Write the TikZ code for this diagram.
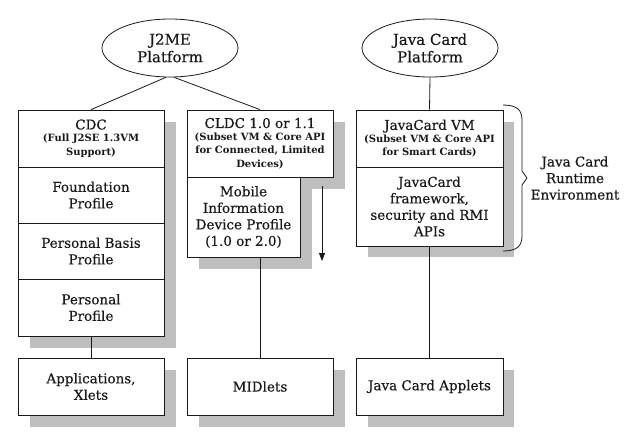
\documentclass[tikz,border=0pt]{standalone}
\usepackage{fontspec}
\setmainfont{DejaVu Serif}
\newfontfamily\heavyserif{DejaVu Serif}[FakeBold=0.35]
\usetikzlibrary{arrows.meta,shapes.geometric}
\definecolor{shadowgray}{RGB}{190,190,190}
\definecolor{ink}{RGB}{25,25,25}
\newcommand{\subf}{\normalfont\fontsize{10}{12.5}\selectfont\bfseries}
\begin{document}
\begin{tikzpicture}[x=1pt,y=-1pt,
  every node/.style={text=ink},
  box/.style={draw=ink, line width=0.8pt, fill=white, rectangle, inner sep=0pt, align=center, font=\heavyserif\fontsize{13.5}{16.5}\selectfont},
  platform/.style={draw=ink, line width=0.8pt, fill=white, ellipse, inner sep=0pt, minimum width=136pt, minimum height=58pt, align=center, font=\heavyserif\fontsize{15}{17.5}\selectfont},
  shade/.style={fill=shadowgray, draw=none},
  conn/.style={draw=ink, line width=0.8pt},
  sidelabel/.style={align=center, font=\heavyserif\fontsize{13.5}{16.5}\selectfont, inner sep=0pt}
]
\fill[white] (0,0) rectangle (635,440);
\useasboundingbox (0,0) rectangle (635,440);
% shadows
\fill[shade] (30,122) rectangle (176,348);
\fill[shade] (30,370) rectangle (176,427);
\fill[shade] (199,122) rectangle (345,189);
\fill[shade] (199,189) rectangle (312,269);
\fill[shade] (199,370) rectangle (345,427);
\fill[shade] (368,122) rectangle (514,257);
\fill[shade] (368,370) rectangle (514,427);
% platforms
\node[platform] (j2me) at (170,48) {J2ME\\Platform};
\node[platform] (jc) at (430,48) {Java Card\\Platform};
% CDC column
\node[box, minimum width=146pt, minimum height=57pt] (cdc) at (91,138.5) {CDC\\[-4pt]{\subf (Full J2SE 1.3VM}\\[-3pt]{\subf Support)}};
\node[box, minimum width=146pt, minimum height=56pt] (found) at (91,195) {Foundation\\Profile};
\node[box, minimum width=146pt, minimum height=56pt] (pbp) at (91,251) {Personal Basis\\Profile};
\node[box, minimum width=146pt, minimum height=57pt] (pp) at (91,307.5) {Personal\\Profile};
\node[box, minimum width=146pt, minimum height=57pt] (apps) at (91,386.5) {Applications,\\Xlets};
% CLDC column
\node[box, minimum width=146pt, minimum height=67pt] (cldc) at (260,143.5) {CLDC 1.0 or 1.1\\[-4pt]{\subf (Subset VM \& Core API}\\[-3pt]{\subf for Connected, Limited}\\[-3pt]{\subf Devices)}};
\node[box, minimum width=113pt, minimum height=80pt] (midp) at (243.5,217) {Mobile\\Information\\Device Profile\\(1.0 or 2.0)};
\node[box, minimum width=146pt, minimum height=57pt] (midlets) at (260,386.5) {MIDlets};
% Java Card column
\node[box, minimum width=147pt, minimum height=57pt] (jcvm) at (429.5,138.5) {JavaCard VM\\[-4pt]{\subf (Subset VM \& Core API}\\[-3pt]{\subf for Smart Cards)}};
\node[box, minimum width=147pt, minimum height=79pt] (jcfw) at (429.5,206.5) {JavaCard\\framework,\\security and RMI\\APIs};
\node[box, minimum width=147pt, minimum height=57pt] (applets) at (429.5,386.5) {Java Card Applets};
% connectors
\draw[conn] (j2me.262) -- (cdc.north);
\draw[conn] (j2me.278) -- (cldc.north);
\draw[conn] (jc.south) -- (jcvm.north);
\draw[conn] (pp.south) -- (apps.north);
\draw[conn] (midp.south -| midlets.north) -- (midlets.north);
\draw[conn] (jcfw.south) -- (applets.north);
% arrow
\coordinate (arrS) at (322,186);
\coordinate (arrE) at (322,261);
\draw[conn, -{Triangle[width=6pt,length=8pt]}] (arrS) -- (arrE);
% brace
\coordinate (brtop) at (503,105);
\coordinate (brbot) at (503,251);
\draw[conn] (brtop) .. controls (517,105) and (522,110) .. (522,120) -- (522,171) -- (527,178) -- (522,185) -- (522,236) .. controls (522,246) and (517,251) .. (brbot);
\node[sidelabel] (jcre) at (575,178) {Java Card\\Runtime\\Environment};
\end{tikzpicture}
\end{document}
